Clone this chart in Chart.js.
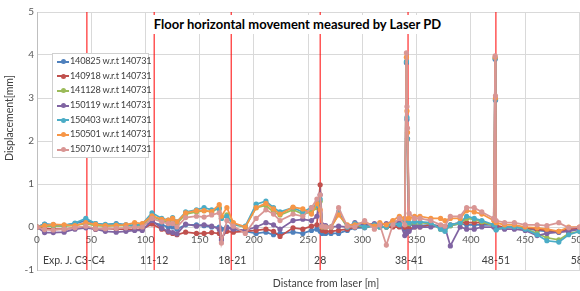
<!DOCTYPE html>
<html>
<head>
<meta charset="utf-8">
<script src="https://cdn.jsdelivr.net/npm/chart.js@4.4.1/dist/chart.umd.min.js"></script>
<style>
  html, body { margin: 0; padding: 0; background: #fff; overflow: hidden; }
  #wrap { position: relative; width: 616px; height: 291px; }
  #title {
    position: absolute; left: 150px; top: 15px; width: 295px; height: 19px;
    background: #fff; font: bold 13px Lato, sans-serif; color: #000;
    text-align: center; line-height: 19px; white-space: nowrap;
  }
  #legend {
    position: absolute; left: 52px; top: 53px; width: 95px; height: 103px;
    background: #fff; border: 1px solid #d0d0d0;
    font: 9.2px Lato, sans-serif; letter-spacing: -0.25px; color: #404040;
  }
  .row { position: relative; height: 14.7px; line-height: 14.7px; white-space: nowrap; }
  .row .ln { position: absolute; left: 4px; top: 6.5px; width: 12px; height: 2px; }
  .row .dot { position: absolute; left: 7.5px; top: 5px; width: 5px; height: 5px; border-radius: 50%; }
  .row .tx { position: absolute; left: 17px; top: 0; }
</style>
</head>
<body>
<div id="wrap">
  <canvas id="chart" width="616" height="291"></canvas>
  <div id="title">Floor horizontal movement measured by Laser PD</div>
  <div id="legend"></div>
</div>
<script>
// distance from laser [m]
var distances = [0, 7, 15, 25, 35, 45, 54, 63, 73, 82, 90, 97, 106, 115, 121, 125, 129, 137, 147, 154,
  161, 168, 170, 175, 181, 192, 202, 211, 218, 224, 236, 245, 253, 258, 261, 263, 266, 271, 278, 286,
  293, 302, 311, 316, 322, 328, 334, 339, 340.5, 341, 341.5, 343, 348, 353, 363, 372, 376, 381, 390, 396,
  403, 410, 421, 422.3, 422.6, 423.2, 431, 440, 450, 461, 470, 481, 490, 500];

// displacement [mm] per measurement, w.r.t 140731
var d140825 = [0, 0.07, 0.05, 0.04, 0.08, 0.15, 0.08, 0.05, 0.08, 0.05, 0.03, 0.06, 0.1, 0.05, 0, 0, -0.05, 0.05, 0.05, 0.03,
  0, 0, -0.05, 0, -0.05, -0.1, -0.15, -0.12, -0.18, -0.15, -0.12, -0.15, -0.08, -0.05, -0.1, -0.15, -0.15, -0.15, -0.15, -0.08,
  -0.02, -0.02, 0.03, 0, 0, 0.05, 0.02, -0.05, 3.82, 2.5, 2.05, 0.05, 0.05, 0.03, 0.05, 0.02, 0, 0.03, 0.08, 0.05,
  0.05, 0.05, 0.05, 3.9, 2.95, -0.05, 0, 0, -0.03, -0.08, -0.1, -0.12, -0.08, -0.05];
var d140918 = [0, -0.03, -0.05, -0.05, -0.02, 0, -0.05, -0.03, -0.05, -0.05, -0.06, -0.05, 0.07, -0.05, -0.12, -0.15, -0.18, -0.12, -0.15, -0.15,
  -0.13, -0.15, -0.25, -0.1, -0.12, -0.1, -0.08, -0.05, -0.1, -0.22, -0.02, -0.05, 0.02, 0.05, 0.98, -0.08, -0.1, -0.1, -0.08, -0.05,
  0, 0.02, 0.03, 0.02, 0, 0, 0, 0, -0.02, -0.03, -0.04, -0.05, 0, 0, 0.05, 0.02, 0, 0.05, 0.1, 0.1,
  0.1, 0.1, 0.05, 0.05, 0.05, 0.03, 0, 0, -0.02, -0.05, -0.08, -0.1, -0.05, -0.03];
var d141128 = [0, 0.02, 0.02, 0.02, 0.04, 0.08, 0.03, 0.02, 0.03, 0.03, 0.02, 0.03, 0.25, 0.15, 0.12, 0.18, 0.08, 0.3, 0.35, 0.38,
  0.35, 0.45, 0.2, 0.28, 0.06, 0, 0.45, 0.5, 0.35, 0.28, 0.4, 0.3, 0.35, 0.45, 0.6, 0.02, 0, 0, 0.3, 0,
  0.05, 0, 0.04, 0, 0, 0.08, 0.1, 0.12, 0.1, 0.08, 0.08, 0.08, 0.1, 0.1, 0.08, -0.05, -0.08, 0.03, 0.08, 0.2,
  0.18, 0.12, 0.03, 0.03, 0.03, -0.05, -0.02, 0, -0.04, -0.15, -0.25, -0.3, -0.15, -0.1];
var d150119 = [0, -0.13, -0.13, -0.12, -0.05, -0.02, -0.05, -0.1, -0.12, -0.1, -0.08, -0.08, 0.15, -0.03, -0.1, -0.13, -0.16, 0.07, 0.02, 0.05,
  0.02, -0.05, -0.3, -0.02, -0.05, -0.08, 0, 0.1, 0.05, -0.05, 0.15, 0.18, 0.15, 0.25, 0.75, 0.05, 0.03, 0, 0.02, 0,
  0.1, 0.05, 0.08, 0.05, 0.08, 0.13, 0.12, -0.2, -0.15, -0.12, -0.1, -0.1, 0, 0, 0, 0.03, 0, -0.44, 0, -0.05,
  -0.05, 0, 0, 0, 0, -0.02, -0.05, -0.05, -0.08, -0.2, -0.15, -0.12, -0.1, -0.05];
var d150403 = [0, 0.06, 0.05, 0.04, 0.09, 0.2, 0.08, 0.06, 0.07, 0.05, 0.03, 0.07, 0.33, 0.2, 0.16, 0.22, 0.12, 0.35, 0.4, 0.45,
  0.4, 0.42, 0.2, 0.25, 0.05, 0.02, 0.53, 0.6, 0.45, 0.35, 0.45, 0.35, 0.45, 0.5, 0.65, 0, 0, 0, 0.35, 0,
  0.08, 0, 0.05, 0, 0, 0.1, 0.05, 0.15, 3.85, 2.55, 2.05, 0.1, 0.12, 0.12, 0.1, -0.05, -0.1, 0.05, 0.1, 0.25,
  0.2, 0.15, 0.05, 3.93, 2.97, -0.07, 0, 0, -0.05, -0.18, -0.32, -0.35, -0.18, -0.1];
var d150501 = [0, 0.03, 0.06, 0.05, 0.03, 0.1, 0.06, 0.03, 0.04, 0.05, 0.1, 0.08, 0.26, 0.18, 0.16, 0.2, 0.12, 0.33, 0.38, 0.38,
  0.36, 0.52, 0.25, 0.45, 0.1, 0, 0.45, 0.55, 0.42, 0.3, 0.46, 0.42, 0.3, 0.55, 0.4, 0, 0, 0, 0.28, 0.05,
  0.05, 0.12, 0.02, 0.1, 0.05, 0.15, 0.25, 0.2, 3.95, 2.7, 2.2, 0.2, 0.25, 0.25, 0.2, 0.2, 0.15, 0.2, 0.2, 0.38,
  0.35, 0.3, 0.15, 3.95, 3.0, 0.1, 0.05, 0.05, 0, -0.02, -0.05, -0.1, 0, 0];
var d150710 = [0, -0.06, -0.07, -0.05, -0.02, 0.02, -0.04, -0.04, -0.03, -0.02, 0, 0, 0.2, 0.12, 0.08, 0.08, 0, 0.22, 0.25, 0.23,
  0.28, 0.33, -0.37, 0.15, 0.02, -0.15, 0.2, 0.4, 0.3, 0.15, 0.3, 0.25, 0.45, 0.65, 0.75, 0.02, 0, 0, 0.45, 0.02,
  0, 0.15, -0.05, 0.05, -0.42, 0.05, 0.2, 0.05, 4.05, 2.8, 2.3, 0.32, 0.2, 0.2, 0.15, 0.05, 0.02, 0.25, 0.25, 0.45,
  0.45, 0.35, 0.2, 3.98, 3.05, 0.15, 0.1, 0.1, 0.05, 0.05, 0.03, 0.1, -0.02, 0];

var seriesValues = [d140825, d140918, d141128, d150119, d150403, d150501, d150710];
var seriesNames = ['140825 w.r.t 140731', '140918 w.r.t 140731', '141128 w.r.t 140731', '150119 w.r.t 140731',
  '150403 w.r.t 140731', '150501 w.r.t 140731', '150710 w.r.t 140731'];
var seriesColors = ['#4F81BD', '#C0504D', '#9BBB59', '#8064A2', '#4BACC6', '#F79646', '#D99694'];

// expansion joint marks (red vertical lines) and their labels
var jointX = [46, 108, 179, 261, 342, 423];
var sectionLabels = ['Exp. J. C3-C4', '11-12', '18-21', '28', '38-41', '48-51', '58-61'];
var sectionX = [34, 108, 180, 261, 343, 423, 505];
var xTicks = [0, 50, 100, 150, 200, 250, 300, 350, 400, 450, 500];

var datasets = [];
seriesValues.forEach(function (vals, i) {
  datasets.push({
    label: seriesNames[i],
    data: distances.map(function (x, j) { return { x: x, y: vals[j] }; }),
    borderColor: seriesColors[i],
    backgroundColor: seriesColors[i],
    borderWidth: 1.75,
    pointRadius: 2.6,
    pointBorderWidth: 0,
    showLine: true,
    order: 10 - i
  });
});
jointX.forEach(function (x) {
  datasets.push({
    label: '',
    data: [{ x: x, y: -1 }, { x: x, y: 5 }],
    borderColor: '#FF0000',
    borderWidth: 1,
    pointRadius: 0,
    showLine: true,
    order: 20
  });
});

// axis labels that sit inside the plot, like the excel original
var textPlugin = {
  id: 'texts',
  beforeDatasetsDraw: function (chart) {
    var ctx = chart.ctx, xs = chart.scales.x, ys = chart.scales.y;
    ctx.save();
    ctx.textAlign = 'center';
    ctx.textBaseline = 'middle';
    ctx.font = '10px Lato';
    ctx.fillStyle = '#595959';
    xTicks.forEach(function (v) {
      ctx.fillText(String(v), xs.getPixelForValue(v), ys.getPixelForValue(0) + 13);
    });
    ctx.font = '10.5px Lato';
    ctx.fillStyle = '#404040';
    sectionLabels.forEach(function (t, i) {
      ctx.fillText(t, xs.getPixelForValue(sectionX[i]), ys.getPixelForValue(-0.77));
    });
    ctx.restore();
  },
  afterDraw: function (chart) {
    var ctx = chart.ctx;
    ctx.save();
    ctx.textAlign = 'center';
    ctx.textBaseline = 'middle';
    ctx.font = '10.5px Lato';
    ctx.fillStyle = '#404040';
    ctx.fillText('Distance from laser [m]', 326, 284);
    ctx.translate(10, 118);
    ctx.rotate(-Math.PI / 2);
    ctx.fillText('Displacement[mm]', 0, 0);
    ctx.restore();
  }
};

var ctx = document.getElementById('chart').getContext('2d');
var chart = new Chart(ctx, {
  type: 'scatter',
  data: { datasets: datasets },
  options: {
    responsive: false,
    animation: false,
    layout: { padding: { top: 12, left: 0, right: 0, bottom: 0 } },
    elements: { line: { tension: 0 } },
    plugins: { legend: { display: false }, tooltip: { enabled: false } },
    scales: {
      x: {
        type: 'linear', min: 0, max: 530,
        afterBuildTicks: function (s) { s.ticks = xTicks.map(function (v) { return { value: v }; }); },
        afterFit: function (s) { s.height = 21; },
        ticks: { display: false },
        grid: { color: '#D9D9D9', drawTicks: false },
        border: { color: '#D9D9D9' }
      },
      y: {
        min: -1, max: 5,
        afterFit: function (s) { s.width = 37; },
        ticks: { stepSize: 1, padding: 3, color: '#595959', font: { family: 'Lato', size: 10 } },
        grid: { color: '#D9D9D9', drawTicks: false },
        border: { color: '#BFBFBF' }
      }
    }
  },
  plugins: [textPlugin]
});

// html legend, boxed inside the plot
var legend = document.getElementById('legend');
seriesNames.forEach(function (name, i) {
  var row = document.createElement('div');
  row.className = 'row';
  row.innerHTML = '<span class="ln" style="background:' + seriesColors[i] + '"></span>' +
    '<span class="dot" style="background:' + seriesColors[i] + '"></span>' +
    '<span class="tx">' + name + '</span>';
  legend.appendChild(row);
});
</script>
</body>
</html>
